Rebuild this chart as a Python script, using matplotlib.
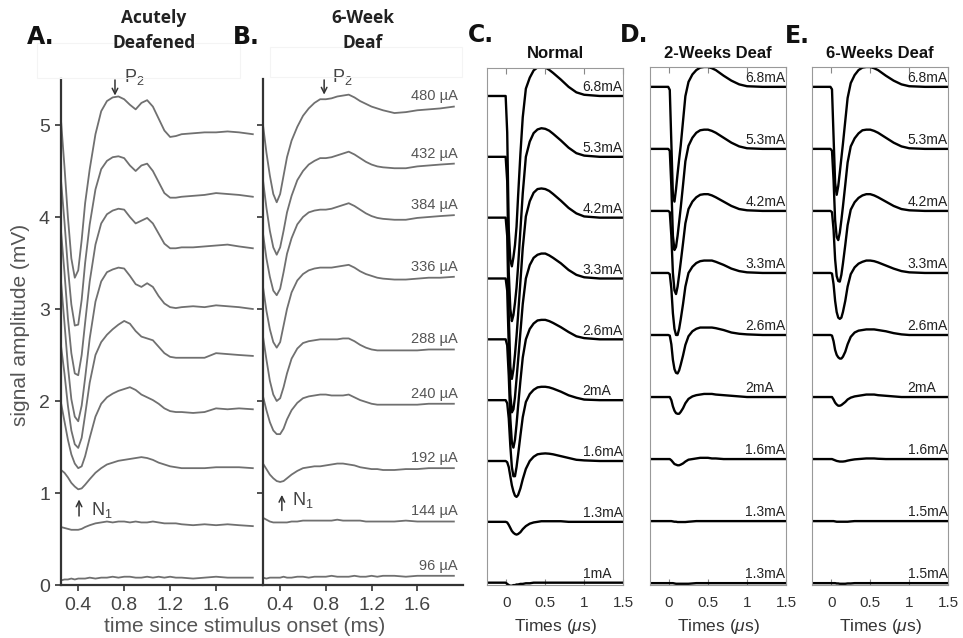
import matplotlib
matplotlib.use("Agg")
import matplotlib.pyplot as plt
from matplotlib.patches import Rectangle

plt.rcParams['font.family'] = ['Liberation Sans', 'DejaVu Sans']
plt.rcParams['mathtext.fontset'] = 'custom'
plt.rcParams['mathtext.rm'] = 'Liberation Sans'
plt.rcParams['mathtext.it'] = 'Liberation Sans:italic'
plt.rcParams['mathtext.bf'] = 'Liberation Sans:bold'

# ---------- data: panels A/B (mV vs ms) ----------
t_ab = [0.25, 0.28, 0.31, 0.34, 0.37, 0.40, 0.43, 0.46, 0.50, 0.55, 0.60, 0.65, 0.70, 0.75, 0.80,
        0.85, 0.90, 0.95, 1.00, 1.05, 1.10, 1.15, 1.20, 1.25, 1.30, 1.40, 1.50, 1.60, 1.70, 1.80, 1.92]

acute_480 = [5.05, 4.55, 4.00, 3.55, 3.34, 3.42, 3.75, 4.15, 4.52, 4.90, 5.15, 5.26, 5.30, 5.31, 5.28,
             5.22, 5.17, 5.24, 5.27, 5.20, 5.07, 4.94, 4.87, 4.88, 4.90, 4.91, 4.92, 4.92, 4.93, 4.92, 4.90]
acute_432 = [4.40, 3.95, 3.45, 3.05, 2.82, 2.83, 3.10, 3.50, 3.92, 4.30, 4.52, 4.61, 4.65, 4.66, 4.64,
             4.56, 4.50, 4.56, 4.58, 4.50, 4.38, 4.26, 4.21, 4.21, 4.22, 4.23, 4.24, 4.26, 4.25, 4.24, 4.22]
acute_384 = [3.85, 3.40, 2.90, 2.52, 2.30, 2.28, 2.50, 2.85, 3.30, 3.70, 3.93, 4.03, 4.07, 4.09, 4.08,
             4.00, 3.93, 3.96, 3.99, 3.93, 3.82, 3.71, 3.66, 3.66, 3.67, 3.67, 3.68, 3.69, 3.70, 3.68, 3.66]
acute_336 = [3.30, 2.85, 2.38, 2.02, 1.83, 1.78, 1.95, 2.25, 2.68, 3.08, 3.30, 3.40, 3.43, 3.45, 3.44,
             3.36, 3.27, 3.24, 3.28, 3.24, 3.14, 3.06, 3.02, 3.01, 3.02, 3.03, 3.02, 3.04, 3.03, 3.02, 3.00]
acute_288 = [2.60, 2.30, 1.95, 1.68, 1.53, 1.49, 1.60, 1.85, 2.20, 2.50, 2.64, 2.72, 2.78, 2.83, 2.87,
             2.84, 2.76, 2.70, 2.68, 2.66, 2.59, 2.52, 2.48, 2.47, 2.47, 2.47, 2.47, 2.52, 2.51, 2.50, 2.49]
acute_240 = [1.98, 1.78, 1.58, 1.42, 1.32, 1.27, 1.29, 1.40, 1.60, 1.83, 1.97, 2.04, 2.08, 2.11, 2.13,
             2.15, 2.12, 2.07, 2.04, 2.01, 1.97, 1.92, 1.89, 1.88, 1.88, 1.87, 1.88, 1.92, 1.91, 1.92, 1.91]
acute_192 = [1.25, 1.22, 1.17, 1.11, 1.07, 1.04, 1.05, 1.09, 1.15, 1.22, 1.27, 1.31, 1.33, 1.35, 1.36,
             1.37, 1.38, 1.39, 1.38, 1.36, 1.33, 1.31, 1.29, 1.28, 1.27, 1.27, 1.27, 1.28, 1.28, 1.28, 1.27]
acute_144 = [0.63, 0.62, 0.61, 0.60, 0.60, 0.60, 0.61, 0.63, 0.65, 0.67, 0.68, 0.69, 0.68, 0.69, 0.69,
             0.68, 0.69, 0.68, 0.68, 0.69, 0.68, 0.67, 0.67, 0.67, 0.66, 0.65, 0.66, 0.65, 0.66, 0.65, 0.64]
acute_96 = [0.05, 0.06, 0.06, 0.07, 0.06, 0.07, 0.07, 0.07, 0.08, 0.07, 0.08, 0.08, 0.09, 0.08, 0.09,
            0.09, 0.08, 0.08, 0.09, 0.08, 0.09, 0.08, 0.09, 0.08, 0.08, 0.07, 0.08, 0.09, 0.08, 0.08, 0.08]

deaf6_480 = [5.00, 4.70, 4.45, 4.25, 4.16, 4.25, 4.45, 4.65, 4.83, 4.98, 5.10, 5.18, 5.24, 5.28, 5.28,
             5.29, 5.31, 5.32, 5.33, 5.30, 5.26, 5.23, 5.20, 5.18, 5.16, 5.13, 5.14, 5.16, 5.17, 5.18, 5.20]
deaf6_432 = [4.40, 4.10, 3.85, 3.67, 3.59, 3.67, 3.85, 4.05, 4.23, 4.40, 4.50, 4.57, 4.61, 4.64, 4.64,
             4.65, 4.67, 4.69, 4.71, 4.68, 4.64, 4.60, 4.57, 4.55, 4.54, 4.53, 4.53, 4.55, 4.56, 4.57, 4.58]
deaf6_384 = [3.82, 3.55, 3.35, 3.20, 3.15, 3.22, 3.40, 3.60, 3.77, 3.92, 4.00, 4.05, 4.07, 4.08, 4.08,
             4.09, 4.11, 4.13, 4.15, 4.12, 4.08, 4.04, 4.01, 3.99, 3.98, 3.97, 3.97, 3.99, 4.00, 4.01, 4.02]
deaf6_336 = [3.24, 2.98, 2.78, 2.64, 2.58, 2.64, 2.82, 3.00, 3.18, 3.31, 3.38, 3.42, 3.44, 3.45, 3.45,
             3.45, 3.46, 3.47, 3.48, 3.45, 3.41, 3.38, 3.36, 3.34, 3.33, 3.32, 3.32, 3.33, 3.34, 3.34, 3.35]
deaf6_288 = [2.70, 2.45, 2.22, 2.07, 2.00, 2.03, 2.15, 2.30, 2.46, 2.57, 2.63, 2.65, 2.66, 2.67, 2.67,
             2.67, 2.67, 2.68, 2.68, 2.65, 2.61, 2.58, 2.56, 2.55, 2.55, 2.55, 2.55, 2.55, 2.56, 2.56, 2.56]
deaf6_240 = [2.05, 1.90, 1.77, 1.68, 1.64, 1.64, 1.70, 1.80, 1.90, 1.98, 2.03, 2.05, 2.06, 2.07, 2.07,
             2.06, 2.06, 2.06, 2.07, 2.04, 2.01, 1.99, 1.97, 1.96, 1.96, 1.96, 1.96, 1.96, 1.97, 1.97, 1.97]
deaf6_192 = [1.32, 1.26, 1.20, 1.16, 1.13, 1.12, 1.13, 1.16, 1.20, 1.24, 1.27, 1.28, 1.29, 1.29, 1.30,
             1.31, 1.32, 1.32, 1.31, 1.30, 1.28, 1.27, 1.26, 1.26, 1.25, 1.25, 1.26, 1.26, 1.27, 1.27, 1.27]
deaf6_144 = [0.73, 0.71, 0.69, 0.68, 0.68, 0.68, 0.68, 0.68, 0.69, 0.69, 0.70, 0.70, 0.70, 0.70, 0.70,
             0.70, 0.71, 0.70, 0.70, 0.70, 0.70, 0.69, 0.69, 0.69, 0.69, 0.69, 0.70, 0.69, 0.69, 0.69, 0.69]
deaf6_96 = [0.08, 0.07, 0.08, 0.08, 0.08, 0.08, 0.09, 0.08, 0.08, 0.09, 0.09, 0.08, 0.09, 0.09, 0.09,
            0.10, 0.09, 0.09, 0.09, 0.10, 0.09, 0.09, 0.10, 0.09, 0.10, 0.10, 0.09, 0.10, 0.10, 0.10, 0.10]

ab_labels = ['480 µA', '432 µA', '384 µA', '336 µA', '288 µA', '240 µA', '192 µA', '144 µA', '96 µA']

# ---------- data: panels C/D/E (trace units, relative to each baseline) ----------
t_cde = [-0.25, -0.01, 0.01, 0.03, 0.05, 0.07, 0.09, 0.11, 0.13, 0.15, 0.18, 0.21, 0.25,
         0.30, 0.35, 0.40, 0.45, 0.50, 0.55, 0.60, 0.70, 0.80, 0.90, 1.00, 1.20, 1.50]

normal_68 = [0, 0, -0.6, -2.2, -2.7, -2.8, -2.65, -2.45, -2.15, -1.65, -0.95, -0.35, 0.12,
             0.30, 0.42, 0.47, 0.48, 0.47, 0.43, 0.38, 0.27, 0.15, 0.06, 0.02, 0, 0]
normal_53 = [0, 0, -0.4, -1.9, -2.5, -2.7, -2.6, -2.4, -2.15, -1.8, -1.2, -0.6, 0.0,
             0.25, 0.39, 0.45, 0.47, 0.46, 0.43, 0.38, 0.27, 0.15, 0.06, 0.02, 0, 0]
normal_42 = [0, 0, -0.3, -1.6, -2.45, -2.65, -2.5, -2.25, -1.95, -1.6, -1.05, -0.5, 0.02,
             0.27, 0.41, 0.47, 0.48, 0.47, 0.44, 0.39, 0.28, 0.16, 0.07, 0.02, 0, 0]
normal_33 = [0, 0, -0.2, -1.1, -1.9, -2.2, -2.15, -1.95, -1.65, -1.35, -0.88, -0.42, 0.0,
             0.22, 0.34, 0.39, 0.41, 0.41, 0.38, 0.34, 0.25, 0.14, 0.06, 0.02, 0, 0]
normal_26 = [0, 0, -0.1, -0.6, -1.3, -1.7, -1.78, -1.65, -1.4, -1.1, -0.68, -0.3, 0.0,
             0.17, 0.26, 0.31, 0.32, 0.32, 0.30, 0.27, 0.20, 0.12, 0.05, 0.02, 0, 0]
normal_20 = [0, 0, -0.05, -0.3, -0.75, -1.1, -1.25, -1.25, -1.1, -0.9, -0.58, -0.28, -0.03,
             0.10, 0.17, 0.21, 0.22, 0.22, 0.21, 0.19, 0.14, 0.08, 0.04, 0.01, 0, 0]
normal_16 = [0, 0, -0.02, -0.1, -0.25, -0.4, -0.5, -0.57, -0.59, -0.56, -0.45, -0.3, -0.13,
             0.0, 0.07, 0.11, 0.12, 0.125, 0.12, 0.11, 0.08, 0.05, 0.02, 0.01, 0, 0]
normal_13 = [0, 0, -0.01, -0.05, -0.1, -0.15, -0.18, -0.2, -0.21, -0.2, -0.17, -0.12, -0.07,
             -0.03, -0.01, 0.0, 0.01, 0.01, 0.01, 0.01, 0.01, 0, 0, 0, 0, 0]
normal_10 = [0, 0, -0.02, -0.04, -0.05, -0.05, -0.04, -0.04, -0.03, -0.03, -0.02, -0.02, -0.01,
             -0.01, 0, 0, 0, 0, 0, 0, 0, 0, 0, 0, 0, 0]

deaf2_68 = [0, 0, -0.05, -0.9, -1.75, -1.85, -1.65, -1.4, -1.17, -0.95, -0.55, -0.15, 0.08,
            0.20, 0.27, 0.31, 0.32, 0.32, 0.30, 0.27, 0.18, 0.10, 0.04, 0.01, 0, 0]
deaf2_53 = [0, 0, -0.03, -0.6, -1.4, -1.63, -1.58, -1.4, -1.18, -0.95, -0.58, -0.2, 0.05,
            0.18, 0.26, 0.30, 0.31, 0.31, 0.29, 0.26, 0.18, 0.10, 0.04, 0.01, 0, 0]
deaf2_42 = [0, 0, -0.02, -0.4, -1.0, -1.28, -1.34, -1.22, -1.03, -0.83, -0.52, -0.2, 0.03,
            0.15, 0.22, 0.26, 0.27, 0.27, 0.25, 0.22, 0.15, 0.08, 0.03, 0.01, 0, 0]
deaf2_33 = [0, 0, -0.02, -0.25, -0.65, -0.9, -1.0, -1.0, -0.9, -0.75, -0.5, -0.22, 0.0,
            0.10, 0.16, 0.19, 0.20, 0.20, 0.20, 0.18, 0.13, 0.07, 0.03, 0.01, 0, 0]
deaf2_26 = [0, 0, -0.01, -0.15, -0.4, -0.55, -0.61, -0.62, -0.57, -0.48, -0.33, -0.16, -0.02,
            0.06, 0.10, 0.12, 0.12, 0.12, 0.12, 0.11, 0.08, 0.04, 0.02, 0.01, 0, 0]
deaf2_20 = [0, 0, 0, -0.05, -0.15, -0.22, -0.26, -0.27, -0.27, -0.24, -0.18, -0.1, -0.03,
            0.01, 0.03, 0.04, 0.05, 0.05, 0.05, 0.04, 0.03, 0.02, 0.01, 0, 0, 0]
deaf2_16 = [0, 0, 0, -0.02, -0.05, -0.08, -0.09, -0.1, -0.1, -0.09, -0.07, -0.04, -0.01,
            0.0, 0.01, 0.02, 0.02, 0.02, 0.01, 0.01, 0, 0, 0, 0, 0, 0]
deaf2_13 = [0, 0, 0, 0, -0.005, -0.01, -0.01, -0.015, -0.015, -0.015, -0.015, -0.015, -0.01,
            -0.005, 0, 0, 0, 0, 0, 0, 0, 0, 0, 0, 0, 0]
deaf2_13b = [0, 0, 0, 0, 0, -0.005, -0.01, -0.01, -0.01, -0.01, -0.01, -0.01, -0.01,
             -0.005, 0, 0, 0, 0, 0, 0, 0, 0, 0, 0, 0, 0]

deaf6e_68 = [0, 0, -0.04, -0.8, -1.55, -1.74, -1.6, -1.38, -1.15, -0.92, -0.55, -0.18, 0.06,
             0.19, 0.27, 0.31, 0.32, 0.32, 0.30, 0.27, 0.18, 0.10, 0.04, 0.01, 0, 0]
deaf6e_53 = [0, 0, -0.03, -0.5, -1.15, -1.42, -1.47, -1.35, -1.15, -0.93, -0.58, -0.22, 0.04,
             0.17, 0.25, 0.30, 0.31, 0.31, 0.29, 0.26, 0.18, 0.10, 0.04, 0.01, 0, 0]
deaf6e_42 = [0, 0, -0.02, -0.3, -0.78, -1.05, -1.13, -1.14, -1.03, -0.85, -0.55, -0.23, 0.02,
             0.14, 0.21, 0.25, 0.27, 0.27, 0.25, 0.22, 0.15, 0.08, 0.03, 0.01, 0, 0]
deaf6e_33 = [0, 0, -0.01, -0.18, -0.45, -0.63, -0.72, -0.74, -0.72, -0.63, -0.45, -0.22, -0.02,
             0.09, 0.15, 0.18, 0.20, 0.20, 0.19, 0.17, 0.12, 0.07, 0.03, 0.01, 0, 0]
deaf6e_26 = [0, 0, -0.01, -0.1, -0.24, -0.32, -0.36, -0.38, -0.38, -0.35, -0.27, -0.15, -0.03,
             0.04, 0.07, 0.08, 0.09, 0.09, 0.09, 0.08, 0.06, 0.03, 0.01, 0, 0, 0]
deaf6e_20 = [0, 0, 0, -0.04, -0.09, -0.12, -0.14, -0.14, -0.13, -0.11, -0.08, -0.04, -0.01,
             0.01, 0.02, 0.03, 0.04, 0.04, 0.04, 0.03, 0.02, 0.01, 0, 0, 0, 0]
deaf6e_16 = [0, 0, 0, -0.01, -0.02, -0.03, -0.035, -0.04, -0.04, -0.04, -0.035, -0.025, -0.015,
             -0.005, 0.0, 0.005, 0.01, 0.01, 0.01, 0.005, 0, 0, 0, 0, 0, 0]
deaf6e_15 = [0, 0, 0, 0, -0.005, -0.01, -0.01, -0.01, -0.01, -0.01, -0.01, -0.01, -0.005,
             0, 0, 0, 0, 0, 0, 0, 0, 0, 0, 0, 0, 0]
deaf6e_15b = [0, 0, 0, 0, 0, -0.005, -0.005, -0.01, -0.01, -0.01, -0.01, -0.005, -0.005,
              0, 0, 0, 0, 0, 0, 0, 0, 0, 0, 0, 0, 0]

normal_labels = ['6.8mA', '5.3mA', '4.2mA', '3.3mA', '2.6mA', '2mA', '1.6mA', '1.3mA', '1mA']
deaf2_labels = ['6.8mA', '5.3mA', '4.2mA', '3.3mA', '2.6mA', '2mA', '1.6mA', '1.3mA', '1.3mA']
deaf6e_labels = ['6.8mA', '5.3mA', '4.2mA', '3.3mA', '2.6mA', '2mA', '1.6mA', '1.5mA', '1.5mA']

acute = [acute_480, acute_432, acute_384, acute_336, acute_288, acute_240, acute_192, acute_144, acute_96]
deaf6 = [deaf6_480, deaf6_432, deaf6_384, deaf6_336, deaf6_288, deaf6_240, deaf6_192, deaf6_144, deaf6_96]
normal = [normal_68, normal_53, normal_42, normal_33, normal_26, normal_20, normal_16, normal_13, normal_10]
deaf2 = [deaf2_68, deaf2_53, deaf2_42, deaf2_33, deaf2_26, deaf2_20, deaf2_16, deaf2_13, deaf2_13b]
deaf6e = [deaf6e_68, deaf6e_53, deaf6e_42, deaf6e_33, deaf6e_26, deaf6e_20, deaf6e_16, deaf6e_15, deaf6e_15b]

# ---------- figure ----------
W, H = 963, 638
fig = plt.figure(figsize=(W / 100, H / 100), dpi=100)


def px_box(l, t, r, b):
    return [l / W, 1 - b / H, (r - l) / W, (b - t) / H]


axA = fig.add_axes(px_box(61, 79, 262, 585))
axB = fig.add_axes(px_box(263, 79, 463, 585))
axC = fig.add_axes(px_box(487, 68, 623, 584.5))
axD = fig.add_axes(px_box(649.5, 67, 786, 585))
axE = fig.add_axes(px_box(811.7, 67, 948.3, 585))

gray_txt = '#444444'
for ax, traces in [(axA, acute), (axB, deaf6)]:
    for tr in traces:
        ax.plot(t_ab, tr, color='#707070', lw=1.3)
    ax.set_xlim(0.25, 2.0)
    ax.set_ylim(0, 5.5)
    for s in ['top', 'right']:
        ax.spines[s].set_visible(False)
    for s in ['left', 'bottom']:
        ax.spines[s].set_color('#333333')
        ax.spines[s].set_linewidth(1.6)
    ax.set_xticks([0.4, 0.8, 1.2, 1.6])
    ax.set_xticklabels(['0.4', '0.8', '1.2', '1.6'])
    ax.set_yticks([0, 1, 2, 3, 4, 5])
    ax.tick_params(direction='out', length=4, width=1.2, color='#333333',
                   labelcolor=gray_txt, labelsize=14, pad=4)
    ax.tick_params(axis='x', pad=5)

axB.set_yticklabels([])
for tr, lab in zip(deaf6, ab_labels):
    axB.text(1.955, tr[-1] + 0.11, lab, ha='right', va='center', fontsize=10.5, color='#555555')

fig.text(21 / W, 1 - 325 / H, 'signal amplitude (mV)', rotation=90, ha='center', va='center',
         fontsize=15, color='#555555')
fig.text(245 / W, 1 - 627 / H, 'time since stimulus onset (ms)', ha='center', va='center',
         fontsize=15, color='#555555')

# P2 / N1 markers
arrow_kw = dict(arrowstyle='->', color='#333333', lw=1.1, mutation_scale=10)
axA.annotate('', xy=(0.72, 5.29), xytext=(0.72, 5.52), arrowprops=arrow_kw, annotation_clip=False)
axA.text(0.80, 5.52, r'$\mathrm{P_2}$', fontsize=13, color=gray_txt, va='center', clip_on=False)
axB.annotate('', xy=(0.785, 5.30), xytext=(0.785, 5.52), arrowprops=arrow_kw, annotation_clip=False)
axB.text(0.85, 5.52, r'$\mathrm{P_2}$', fontsize=13, color=gray_txt, va='center', clip_on=False)
axA.annotate('', xy=(0.407, 0.96), xytext=(0.407, 0.72), arrowprops=arrow_kw)
axA.text(0.51, 0.82, r'$\mathrm{N_1}$', fontsize=13, color=gray_txt, va='center')
axB.annotate('', xy=(0.415, 1.01), xytext=(0.415, 0.78), arrowprops=arrow_kw)
axB.text(0.50, 0.92, r'$\mathrm{N_1}$', fontsize=13, color=gray_txt, va='center')

# C/D/E
for ax, traces, labels, top in [(axC, normal, normal_labels, 8.46),
                                (axD, deaf2, deaf2_labels, 8.32),
                                (axE, deaf6e, deaf6e_labels, 8.32)]:
    n = len(traces)
    for i, (tr, lab) in enumerate(zip(traces, labels)):
        off = n - 1 - i
        ax.plot(t_cde, [off + v for v in tr], color='black', lw=1.7)
        ax.text(0.98, off + 0.03, lab, ha='left', va='bottom', fontsize=10, color='#222222')
    ax.set_xlim(-0.25, 1.5)
    ax.set_ylim(-0.03, top)
    ax.set_xticks([0, 0.5, 1, 1.5])
    ax.set_xticklabels(['0', '0.5', '1', '1.5'])
    ax.set_yticks([])
    ax.tick_params(direction='in', top=True, length=4, width=0.8, color='#888888',
                   labelcolor='#333333', labelsize=11, pad=8)
    for s in ax.spines.values():
        s.set_color('#999999')
        s.set_linewidth(0.8)

for cx in [555, 718, 880]:
    fig.text(cx / W, 1 - 626 / H, r'Times ($\mu$s)', ha='center', va='center', fontsize=12.5,
             color='#333333')

# titles
title_kw = dict(ha='center', va='center', fontsize=12.5, fontweight='bold',
                family=['Open Sans', 'DejaVu Sans'], color='#222222')
fig.text(154 / W, 1 - 18 / H, 'Acutely', **title_kw)
fig.text(154 / W, 1 - 43 / H, 'Deafened', **title_kw)
fig.text(363 / W, 1 - 18 / H, '6-Week', **title_kw)
fig.text(363 / W, 1 - 43 / H, 'Deaf', **title_kw)
sub_kw = dict(ha='center', va='center', fontsize=12, fontweight='bold', color='#111111')
fig.text(555 / W, 1 - 53 / H, 'Normal', **sub_kw)
fig.text(718 / W, 1 - 54 / H, '2-Weeks Deaf', **sub_kw)
fig.text(880 / W, 1 - 54 / H, '6-Weeks Deaf', **sub_kw)

letter_kw = dict(ha='left', va='center', fontsize=17, fontweight='bold',
                 family=['DejaVu Sans'], color='#111111')
for lx, ly, s in [(27, 37, 'A.'), (233, 37, 'B.'), (468, 35, 'C.'), (620, 35, 'D.'), (785, 36, 'E.')]:
    fig.text(lx / W, 1 - ly / H, s, **letter_kw)

# very faint frames around the A/B headers
for l, t, r, b in [(37, 43, 240, 78), (270, 47, 462, 77)]:
    fig.add_artist(Rectangle((l / W, 1 - b / H), (r - l) / W, (b - t) / H,
                             transform=fig.transFigure, fill=False, edgecolor='#f4f4f4', lw=0.8))

fig.savefig('out.png', dpi=100)
